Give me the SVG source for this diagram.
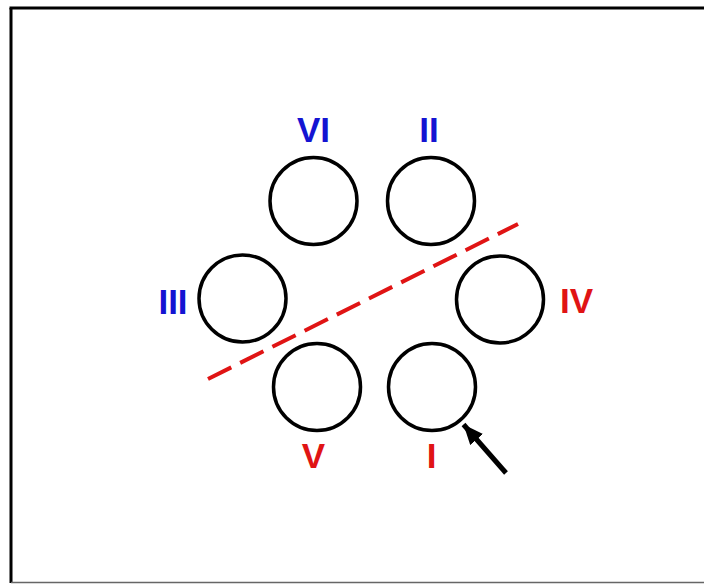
<svg xmlns="http://www.w3.org/2000/svg" width="704" height="584" viewBox="0 0 704 584">
<style>
.ring{fill:none;stroke:#000;stroke-width:3.5}
.lbl{font-family:"Liberation Sans",Arial,sans-serif;font-weight:bold;font-size:35px;text-anchor:middle}
.blue{fill:#1414d2}
.red{fill:#e01414}
</style>
<defs>
<marker id="ah" markerWidth="4" markerHeight="3.4" refX="4" refY="1.7" orient="auto" markerUnits="strokeWidth">
<path d="M0,0 L4,1.7 L0,3.4 z" fill="#000"/>
</marker>
</defs>
<rect x="0" y="0" width="704" height="584" fill="#fff"/>
<g id="frame">
<line x1="9.5" y1="8" x2="704" y2="8" stroke="#000" stroke-width="3"/>
<line x1="11" y1="8" x2="11" y2="583" stroke="#000" stroke-width="3"/>
<line x1="11" y1="582.5" x2="704" y2="582.5" stroke="#666" stroke-width="1.5"/>
</g>
<g id="n1"><circle class="ring" cx="432" cy="387" r="43.5"/><text class="lbl red" x="431.5" y="468">I</text></g>
<g id="n2"><circle class="ring" cx="431" cy="201" r="43.5"/><text class="lbl blue" x="429" y="142">II</text></g>
<g id="n3"><circle class="ring" cx="242.5" cy="298.5" r="43.5"/><text class="lbl blue" x="173" y="314">III</text></g>
<g id="n4"><circle class="ring" cx="500" cy="299.5" r="43.5"/><text class="lbl red" x="576.5" y="313">IV</text></g>
<g id="n5"><circle class="ring" cx="317" cy="387" r="43.5"/><text class="lbl red" x="313.5" y="468">V</text></g>
<g id="n6"><circle class="ring" cx="313.5" cy="201" r="43.5"/><text class="lbl blue" x="313.5" y="142">VI</text></g>
<g id="connectors">
<line x1="208" y1="379" x2="518" y2="224" stroke="#e01414" stroke-width="4" stroke-dasharray="26 10"/>
<line x1="506" y1="473" x2="463.5" y2="424.5" stroke="#000" stroke-width="5" marker-end="url(#ah)"/>
</g>
</svg>
